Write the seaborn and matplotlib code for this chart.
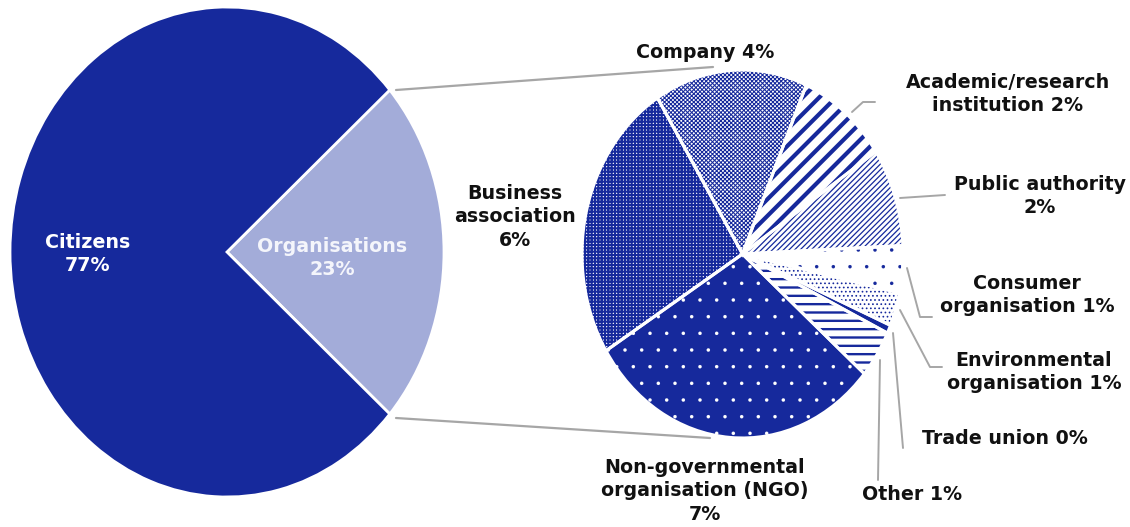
import matplotlib
matplotlib.use("Agg")
import matplotlib.pyplot as plt
import seaborn as sns

# Left pie: who answered
main_labels = ["Organisations", "Citizens"]
main_values = [23, 77]

# Right pie: breakdown of the organisations (share of all answers, %)
org_labels = ["Company", "Academic/research\ninstitution", "Public authority",
              "Consumer\norganisation", "Environmental\norganisation",
              "Trade union", "Other", "Non-governmental\norganisation (NGO)",
              "Business\nassociation"]
org_values = [3.55, 2.1, 2.0, 0.95, 0.68, 0.17, 0.97, 6.9, 5.75]
org_shown = [4, 2, 2, 1, 1, 0, 1, 7, 6]
org_sep = [" ", " ", "\n", " ", " ", " ", " ", "\n", "\n"]

sns.set_style("white")
plt.rcParams['font.family'] = ['DejaVu Sans']

navy = "#16299c"
light = "#a3acd9"
grey = "#a6a6a6"

W, H = 1130, 527
fig = plt.figure(figsize=(W / 100, H / 100), dpi=100)


def hatch_width(artist, lw):
    # hatch linewidth is an rcParam, so set it while this wedge draws
    orig = artist.draw

    def draw(renderer):
        with plt.rc_context({"hatch.linewidth": lw}):
            orig(renderer)
    artist.draw = draw
    if hasattr(artist, "set_hatch_linewidth"):
        artist.set_hatch_linewidth(lw)


# left pie (slightly stretched vertically, like the original)
ax1 = fig.add_axes([10 / W, (H - 497) / H, 434 / W, 490 / H])
w1, _ = ax1.pie(main_values, colors=[light, navy], startangle=-41.4,
                counterclock=True,
                wedgeprops=dict(edgecolor="white", linewidth=2))
ax1.set_xlim(-1, 1)
ax1.set_ylim(-1, 1)
ax1.set_aspect("auto")
for w in w1:
    w.set_clip_on(False)

# right pie with patterns
ax2 = fig.add_axes([582 / W, (H - 438) / H, 321 / W, 368 / H])
# face colour, hatch, hatch colour, hatch width
styles = [
    ("white", "xxxxxxxx", navy, 0.75),
    ("white", "//", navy, 3.0),
    ("white", "//////", navy, 0.9),
    ("white", ".", navy, 0.1),
    ("white", "....", navy, 0.7),
    (navy, "", navy, 1.0),
    ("white", "--", navy, 1.7),
    (navy, ".", "white", 0.1),
    ("white", "+++++", navy, 1.5),
]
w2, _ = ax2.pie(org_values, startangle=122, counterclock=False,
                colors=[s[0] for s in styles],
                wedgeprops=dict(linewidth=0))
for w, (fc, hatch, hc, hlw) in zip(w2, styles):
    w.set_edgecolor(hc)
    w.set_linewidth(0)
    if hatch:
        w.set_hatch(hatch)
        hatch_width(w, hlw)
    w.set_clip_on(False)
# white gaps between the slices
w3, _ = ax2.pie(org_values, startangle=122, counterclock=False,
                wedgeprops=dict(fill=False, edgecolor="white", linewidth=2.2))
for w in w3:
    w.set_clip_on(False)
ax2.set_xlim(-1, 1)
ax2.set_ylim(-1, 1)
ax2.set_aspect("auto")

# overlay in pixel coordinates for connector lines and labels
ax = fig.add_axes([0, 0, 1, 1], zorder=3)
ax.set_xlim(0, W)
ax.set_ylim(H, 0)
ax.axis("off")
ax.patch.set_alpha(0)

ax.plot([396, 713], [90, 67], color=grey, lw=1.6)
ax.plot([396, 710], [418, 438], color=grey, lw=1.6)

leaders = [
    [(852, 112), (863, 102), (875, 102)],
    [(900, 198), (945, 195)],
    [(907, 268), (920, 317), (932, 317)],
    [(900, 310), (930, 367), (942, 367)],
    [(893, 333), (903, 448)],
    [(880, 360), (878, 480)],
]
for pts in leaders:
    xs, ys = zip(*pts)
    ax.plot(xs, ys, color=grey, lw=1.4)

txt = dict(fontsize=13.7, fontweight="bold", ha="center", va="center",
           linespacing=1.33)
ax.text(88, 254, f"{main_labels[1]}\n{main_values[1]}%", color="white", **txt)
ax.text(332, 258, f"{main_labels[0]}\n{main_values[0]}%", color="#f4f5fb", **txt)

label_pos = [(705, 52), (1008, 94), (1040, 196), (1027, 295), (1034, 372),
             (1005, 438), (912, 495), (705, 491), (515, 217)]
for name, pct, sep, (x, y) in zip(org_labels, org_shown, org_sep, label_pos):
    ax.text(x, y, f"{name}{sep}{pct}%", color="#111111", **txt)

fig.savefig("out.png", dpi=100)
